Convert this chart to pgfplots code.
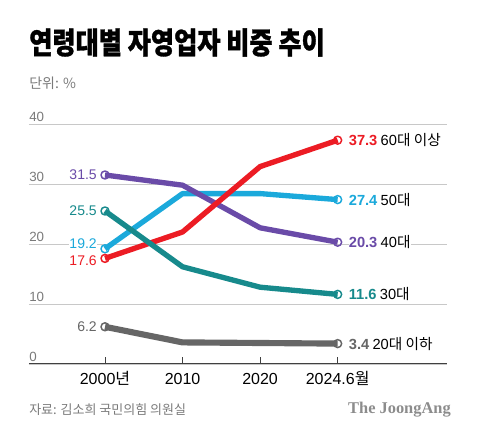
\documentclass[border=0pt]{standalone}
\usepackage{pgfplots}
\pgfplotsset{compat=1.18}
\usepackage{fontspec}
\setmainfont{Liberation Sans}
\newfontfamily\kr{Noto Sans CJK KR}
\newfontfamily\krtitle[FakeStretch=0.84,BoldFeatures={FakeBold=1}]{Noto Sans CJK KR}
\newfontfamily\jserif{Liberation Serif}
\definecolor{cred}{HTML}{EC1C24}
\definecolor{ccyan}{HTML}{1BA9DB}
\definecolor{cpurple}{HTML}{6A4BA8}
\definecolor{cteal}{HTML}{178A8C}
\definecolor{cgray}{HTML}{666666}
\definecolor{ctick}{HTML}{7A7A7A}
\definecolor{cgrid}{HTML}{C8C8C8}
\begin{document}
\begin{tikzpicture}[x=0.75pt,y=0.75pt]
\path[use as bounding box] (0,0) rectangle (480,439);
% titles
\node[anchor=west,inner sep=0pt] at (29,396.5) {\krtitle\bfseries\fontsize{22.5}{26}\selectfont 연령대별 자영업자 비중 추이};
\node[anchor=west,inner sep=0pt,text=ctick] at (29,356) {\kr\fontsize{10.5}{12}\selectfont 단위: \%};
\node[anchor=west,inner sep=0pt,text=ctick] at (29,29) {\kr\fontsize{9.75}{12}\selectfont 자료: 김소희 국민의힘 의원실};
\node[anchor=east,inner sep=0pt,text=black!45] at (451,29) {\jserif\bfseries\fontsize{12.3}{14}\selectfont The JoongAng};
\begin{axis}[
  at={(21.75pt,56.25pt)}, anchor=south west,
  scale only axis, width=313.5pt, height=180pt,
  xmin=-0.98, xmax=4.41, ymin=0, ymax=40,
  clip=false,
  /pgf/number format/assume math mode=true,
  axis x line*=bottom, axis y line*=left,
  y axis line style={draw=none},
  x axis line style={draw=black!75, line width=0.75pt},
  xtick={0,1,2,3},
  xticklabels={2000{\kr 년},2010,2020,2024.6{\kr 월}},
  xtick style={draw=black!75, line width=0.6pt},
  major tick length=5pt, tick align=inside,
  ytick={0,10,20,30,40},
  ytick style={draw=none},
  ymajorgrids, grid style={cgrid, line width=0.6pt},
  xticklabel style={anchor=base, inner sep=0pt, yshift=-15.75pt, font=\fontsize{12}{14}\selectfont, text=black},
  yticklabel style={anchor=base west, inner sep=0pt, yshift=1.5pt, font=\fontsize{10}{12}\selectfont, text=ctick},
  every axis plot/.append style={line width=4pt, line join=round, mark=o, mark indices={1,4}, mark size=3pt, mark options={fill=white, line width=1.1pt, solid}},
]
\addplot[cgray, line width=4.6pt] coordinates {(0,6.2) (1,3.6) (2,3.5) (3,3.4)};
\addplot[ccyan] coordinates {(0,19.2) (1,28.4) (2,28.4) (3,27.4)};
\addplot[cpurple] coordinates {(0,31.5) (1,29.8) (2,22.7) (3,20.3)};
\addplot[cred] coordinates {(0,17.6) (1,22.0) (2,32.9) (3,37.3)};
\addplot[cteal] coordinates {(0,25.5) (1,16.2) (2,12.8) (3,11.6)};
% left labels
\begin{scope}[every node/.style={anchor=east, inner sep=0.5pt, xshift=-5.5pt, fill=white, font=\fontsize{10.5}{12}\selectfont}]
\node[text=cpurple] at (axis cs:0,31.5) {31.5};
\node[text=cteal] at (axis cs:0,25.5) {25.5};
\node[text=cred, yshift=-1.5pt] at (axis cs:0,17.6) {17.6};
\node[text=ccyan, yshift=3.5pt] at (axis cs:0,19.2) {19.2};
\node[text=cgray] at (axis cs:0,6.2) {6.2};
\end{scope}
% right labels
\begin{scope}[every node/.style={anchor=west, inner sep=0pt, xshift=8.2pt, font=\fontsize{11}{12}\selectfont, fill=white}]
\node at (axis cs:3,37.3) {\textcolor{cred}{\bfseries 37.3}\hspace{2.5pt}60{\kr 대 이상}};
\node at (axis cs:3,27.4) {\textcolor{ccyan}{\bfseries 27.4}\hspace{2.5pt}50{\kr 대}};
\node at (axis cs:3,20.3) {\textcolor{cpurple}{\bfseries 20.3}\hspace{2.5pt}40{\kr 대}};
\node at (axis cs:3,11.6) {\textcolor{cteal}{\bfseries 11.6}\hspace{2.5pt}30{\kr 대}};
\node at (axis cs:3,3.4) {\textcolor{cgray}{\bfseries 3.4}\hspace{2.5pt}20{\kr 대 이하}};
\end{scope}
\end{axis}
\end{tikzpicture}
\end{document}
